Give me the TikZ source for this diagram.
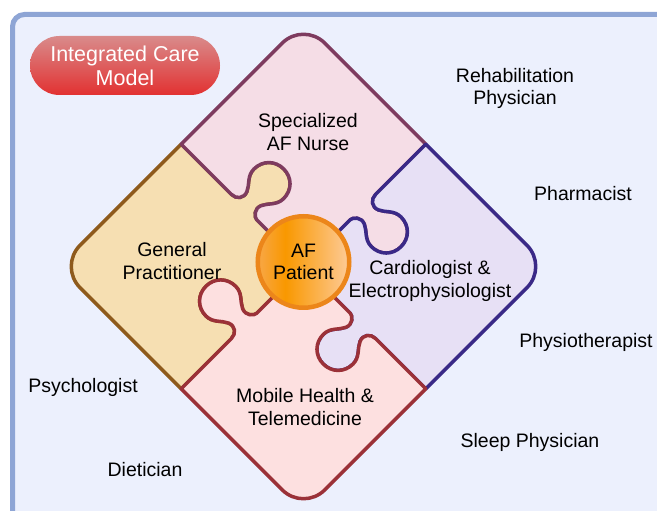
\documentclass[tikz,border=0pt]{standalone}
\usepackage{fontspec}
\setmainfont{Liberation Sans}

\definecolor{panelfill}{HTML}{ECF0FD}
\definecolor{panelline}{HTML}{8EA5D5}
\definecolor{pilltop}{HTML}{D98B8B}
\definecolor{pillbottom}{HTML}{E23131}
\definecolor{nursefill}{HTML}{F5DDE6}
\definecolor{nurseline}{HTML}{7E3B5F}
\definecolor{gpfill}{HTML}{F6DFB2}
\definecolor{gpline}{HTML}{8E5A1C}
\definecolor{cardfill}{HTML}{E7E0F5}
\definecolor{cardline}{HTML}{3A2987}
\definecolor{mobfill}{HTML}{FDE0E0}
\definecolor{mobline}{HTML}{9B3138}
\definecolor{patientline}{HTML}{EC861A}
\definecolor{patientedge}{HTML}{F8A53E}
\definecolor{patientcore}{HTML}{F99800}
\definecolor{patientright}{HTML}{FDCB98}

% orange to peach across the patient disc (node spans 25bp..75bp)
\pgfdeclarehorizontalshading{patientshade}{100bp}{%
  color(0bp)=(patientedge); color(27bp)=(patientedge);
  color(40bp)=(patientcore); color(75bp)=(patientright);
  color(100bp)=(patientright)}

\begin{document}
\begin{tikzpicture}[x=1pt, y=1pt, font=\fontsize{19.5}{22.7}\selectfont,
  piece/.style={line width=3.5pt, line join=round},
  role/.style={align=center, inner sep=0pt},
  pill/.style={align=center, text=white, inner sep=0pt, rounded corners=29.5pt,
    minimum width=190pt, minimum height=59pt, top color=pilltop, bottom color=pillbottom,
    font=\fontsize{21.5}{24}\selectfont}]

  \clip (0,0) rectangle (657,511);

  % ── background panel (runs off the right and bottom edge) ──
  \draw[line width=5pt, draw=panelline, fill=panelfill, rounded corners=12pt]
    (12.5,496.5) rectangle (700,-40);

  % ── title pill ──
  \node[pill] (title) at (125,445.5) {Integrated Care\\Model};

  % ── four puzzle pieces: one shape, turned by 90 degrees each time
  %    order matters, the later piece paints the shared edge ──
  \begin{scope}[shift={(303.5,244.5)}, rotate=45]
    \foreach \ang/\fc/\dc in {90/gpfill/gpline, 0/nursefill/nurseline,
                              270/cardfill/cardline, 180/mobfill/mobline}
      \filldraw[piece, fill=\fc, draw=\dc, rotate=\ang]
        (0,0) -- (66,0)
        .. controls (70,0) and (76,-6) .. (73,-13)
        .. controls (70,-20) and (62,-24) .. (62,-34)
        .. controls (62,-46) and (71,-55) .. (83,-55)
        .. controls (95,-55) and (104,-46) .. (104,-34)
        .. controls (104,-24) and (96,-20) .. (93,-13)
        .. controls (90,-6) and (95,0) .. (102,0)
        -- (173,0) -- (173,143) arc[start angle=0, end angle=90, radius=30]
        -- (0,173) -- (0,102)
        .. controls (0,95) and (6,90) .. (13,93)
        .. controls (20,96) and (24,104) .. (34,104)
        .. controls (46,104) and (55,95) .. (55,83)
        .. controls (55,71) and (46,62) .. (34,62)
        .. controls (24,62) and (20,70) .. (13,73)
        .. controls (6,76) and (0,70) .. (0,66)
        -- cycle;
  \end{scope}

  % ── piece labels ──
  \node[role] (nurse)  at (308,379) {Specialized\\AF Nurse};
  \node[role] (gp)     at (172,250) {General\\Practitioner};
  \node[role] (cardio) at (430,230) {Cardiologist \&\\Electrophysiologist};
  \node[role] (mobile) at (305,104) {Mobile Health \&\\Telemedicine};

  % ── patient in the middle ──
  \node[circle, draw=patientline, line width=4.5pt, minimum size=91.5pt,
        shading=patientshade, align=center,
        inner sep=0pt] (patient) at (303.5,249) {AF\\Patient};

  % ── further team members around the model ──
  \node[role] (rehab)  at (515,422.5) {Rehabilitation\\Physician};
  \node[role] (pharm)  at (583,317)   {Pharmacist};
  \node[role] (physio) at (586,169)   {Physiotherapist};
  \node[role] (sleep)  at (530,69)    {Sleep Physician};
  \node[role] (psych)  at (83,124)    {Psychologist};
  \node[role] (diet)   at (145,41)    {Dietician};

\end{tikzpicture}
\end{document}
